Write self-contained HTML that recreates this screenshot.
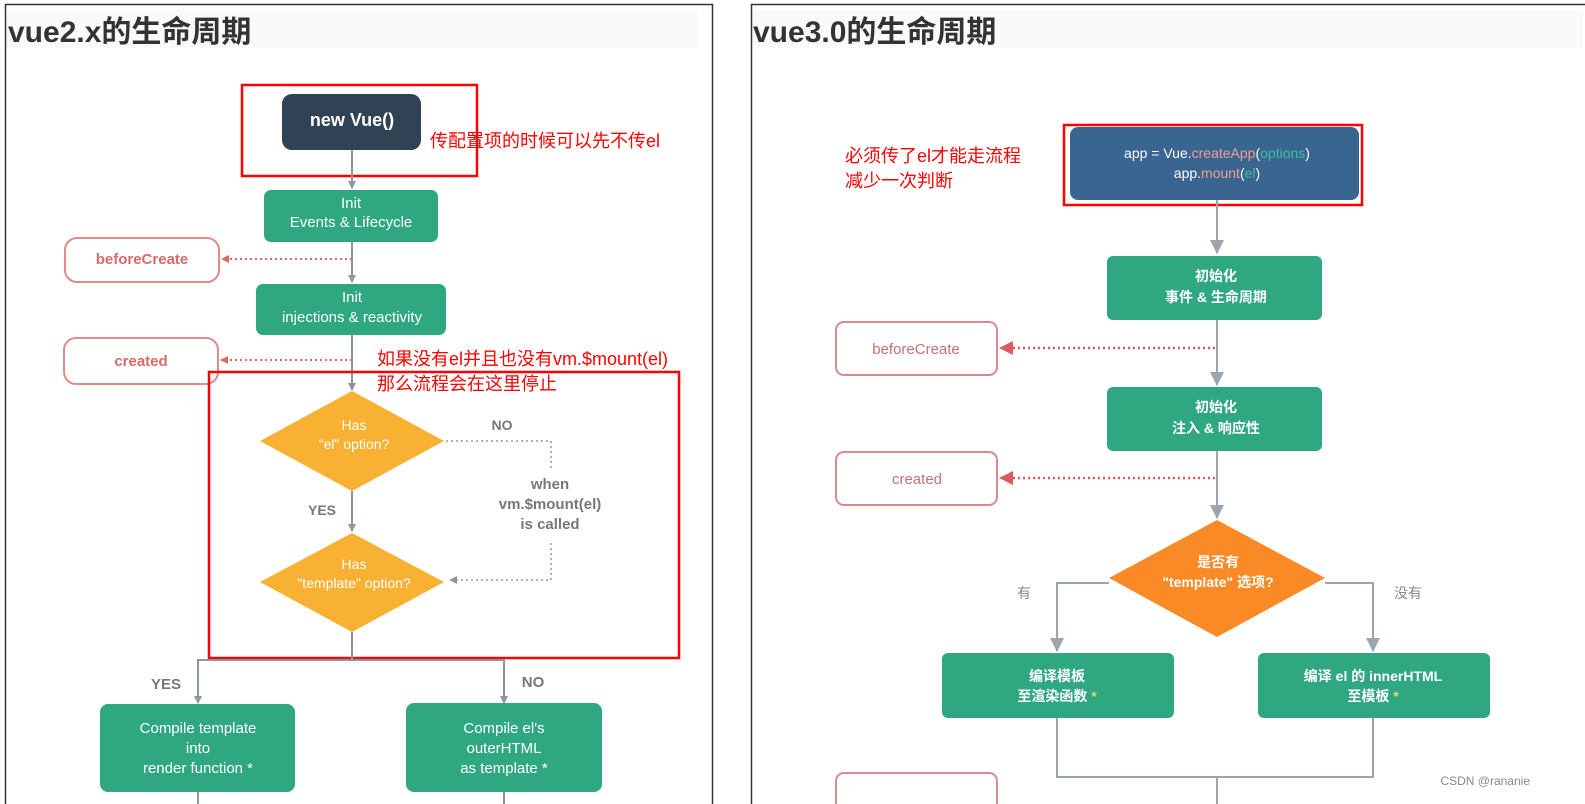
<!DOCTYPE html>
<html><head><meta charset="utf-8"><style>
html,body{margin:0;padding:0;background:#fff;width:1585px;height:804px;overflow:hidden}
svg{display:block}
text{font-family:"Liberation Sans","Noto Sans CJK SC",sans-serif}
</style></head><body>
<svg width="1585" height="804" viewBox="0 0 1585 804" xmlns="http://www.w3.org/2000/svg">
<defs>
<marker id="ag" markerWidth="8" markerHeight="8" refX="7" refY="4" orient="auto" markerUnits="userSpaceOnUse"><path d="M0,0 L8,4 L0,8z" fill="#8a96a3"/></marker>
<marker id="ar" markerWidth="8" markerHeight="8" refX="7" refY="4" orient="auto" markerUnits="userSpaceOnUse"><path d="M0,0 L8,4 L0,8z" fill="#d96a6a"/></marker>
<marker id="ag2" markerWidth="14" markerHeight="14" refX="13" refY="7" orient="auto" markerUnits="userSpaceOnUse"><path d="M0,0 L14,7 L0,14z" fill="#9ca5ad"/></marker>
<marker id="ar2" markerWidth="14" markerHeight="14" refX="13" refY="7" orient="auto" markerUnits="userSpaceOnUse"><path d="M0,0 L14,7 L0,14z" fill="#dd5a5f"/></marker>
</defs>
<rect x="5.5" y="4.5" width="707" height="810" fill="#fff" stroke="#333" stroke-width="1.5"/>
<rect x="7" y="10" width="690" height="38" fill="#f9f9f9"/>
<text x="8" y="42" font-size="30" font-weight="bold" fill="#333">vue2.x的生命周期</text>
<rect x="751.5" y="4.5" width="840" height="810" fill="#fff" stroke="#333" stroke-width="1.5"/>
<rect x="753" y="10" width="830" height="38" fill="#fafafa"/>
<text x="753" y="42" font-size="30" font-weight="bold" fill="#333">vue3.0的生命周期</text>

<rect x="282" y="94" width="139" height="56" rx="10" fill="#2f4354"/>
<text x="352" y="126" font-size="18" font-weight="bold" fill="#fff" text-anchor="middle">new Vue()</text>
<rect x="242" y="85" width="235" height="91" fill="none" stroke="#f00" stroke-width="2.5"/>
<text x="430" y="147" font-size="18" fill="#f00">传配置项的时候可以先不传el</text>
<line x1="352" y1="150" x2="352" y2="188" stroke="#8a96a3" stroke-width="2" marker-end="url(#ag)"/>
<rect x="264" y="190" width="174" height="52" rx="7" fill="#2fa882"/>
<text x="351" y="208" font-size="15" fill="#fff" text-anchor="middle">Init</text>
<text x="351" y="227" font-size="15" fill="#fff" text-anchor="middle">Events &amp; Lifecycle</text>
<rect x="65" y="238" width="154" height="44" rx="12" fill="#fff" stroke="#e08a8c" stroke-width="2"/>
<text x="142" y="264" font-size="15" font-weight="bold" fill="#d96a6a" text-anchor="middle">beforeCreate</text>
<line x1="352" y1="259" x2="222" y2="259" stroke="#d96a6a" stroke-width="2" stroke-dasharray="2,3" marker-end="url(#ar)"/>
<line x1="352" y1="242" x2="352" y2="282" stroke="#8a96a3" stroke-width="2" marker-end="url(#ag)"/>
<rect x="256" y="284" width="190" height="51" rx="7" fill="#2fa882"/>
<text x="352" y="302" font-size="15" fill="#fff" text-anchor="middle">Init</text>
<text x="352" y="322" font-size="15" fill="#fff" text-anchor="middle">injections &amp; reactivity</text>
<rect x="64" y="338" width="154" height="46" rx="12" fill="#fff" stroke="#e08a8c" stroke-width="2"/>
<text x="141" y="366" font-size="15" font-weight="bold" fill="#d96a6a" text-anchor="middle">created</text>
<line x1="352" y1="360" x2="221" y2="360" stroke="#d96a6a" stroke-width="2" stroke-dasharray="2,3" marker-end="url(#ar)"/>
<line x1="352" y1="335" x2="352" y2="390" stroke="#8a96a3" stroke-width="2" marker-end="url(#ag)"/>
<text x="377" y="365" font-size="18" fill="#f00">如果没有el并且也没有vm.$mount(el)</text>
<text x="377" y="390" font-size="18" fill="#f00">那么流程会在这里停止</text>
<rect x="209" y="372" width="470" height="286" fill="none" stroke="#f00" stroke-width="2.5"/>
<polygon points="352,391 444,441 352,491 260,441" fill="#f8b133"/>
<text x="354" y="430" font-size="14" fill="#fff" text-anchor="middle">Has</text>
<text x="354" y="449" font-size="14" fill="#fff" text-anchor="middle">"el" option?</text>
<text x="502" y="430" font-size="14" font-weight="bold" fill="#777" text-anchor="middle">NO</text>
<polyline points="446,441 551,441 551,470" fill="none" stroke="#999" stroke-width="1.5" stroke-dasharray="2,3"/>
<text x="550" y="489" font-size="15" font-weight="bold" fill="#777" text-anchor="middle">when</text>
<text x="550" y="509" font-size="15" font-weight="bold" fill="#777" text-anchor="middle">vm.$mount(el)</text>
<text x="550" y="529" font-size="15" font-weight="bold" fill="#777" text-anchor="middle">is called</text>
<polyline points="551,543 551,580 450,580" fill="none" stroke="#999" stroke-width="1.5" stroke-dasharray="2,3" marker-end="url(#ag)"/>
<text x="322" y="515" font-size="14" font-weight="bold" fill="#777" text-anchor="middle">YES</text>
<line x1="352" y1="491" x2="352" y2="531" stroke="#8a96a3" stroke-width="2" marker-end="url(#ag)"/>
<polygon points="352,533 444,582 352,632 260,582" fill="#f8b133"/>
<text x="354" y="569" font-size="14" fill="#fff" text-anchor="middle">Has</text>
<text x="354" y="588" font-size="14" fill="#fff" text-anchor="middle">"template" option?</text>
<line x1="352" y1="632" x2="352" y2="660" stroke="#8a96a3" stroke-width="2"/>
<polyline points="198,703 198,660 504,660 504,703" fill="none" stroke="#8a96a3" stroke-width="2"/>
<path d="M194,696 L198,704 L202,696z M500,696 L504,704 L508,696z" fill="#8a96a3"/>
<text x="166" y="689" font-size="15" font-weight="bold" fill="#777" text-anchor="middle">YES</text>
<text x="533" y="687" font-size="15" font-weight="bold" fill="#777" text-anchor="middle">NO</text>
<rect x="100" y="704" width="195" height="88" rx="8" fill="#2fa882"/>
<text x="198" y="733" font-size="15" fill="#fff" text-anchor="middle">Compile template</text>
<text x="198" y="753" font-size="15" fill="#fff" text-anchor="middle">into</text>
<text x="198" y="773" font-size="15" fill="#fff" text-anchor="middle">render function *</text>
<rect x="406" y="703" width="196" height="89" rx="8" fill="#2fa882"/>
<text x="504" y="733" font-size="15" fill="#fff" text-anchor="middle">Compile el's</text>
<text x="504" y="753" font-size="15" fill="#fff" text-anchor="middle">outerHTML</text>
<text x="504" y="773" font-size="15" fill="#fff" text-anchor="middle">as template *</text>
<line x1="198" y1="792" x2="198" y2="804" stroke="#8a96a3" stroke-width="2"/>
<line x1="504" y1="792" x2="504" y2="804" stroke="#8a96a3" stroke-width="2"/>

<text x="845" y="162" font-size="18" fill="#f00">必须传了el才能走流程</text>
<text x="845" y="187" font-size="18" fill="#f00">减少一次判断</text>
<rect x="1070" y="127" width="289" height="73" rx="8" fill="#3a6591"/>
<rect x="1064" y="125" width="298" height="80" fill="none" stroke="#f00" stroke-width="2.5"/>
<text x="1217" y="158" font-size="14" fill="#fff" text-anchor="middle">app = Vue.<tspan fill="#f1a08d">createApp</tspan>(<tspan fill="#3cbf95">options</tspan>)</text>
<text x="1217" y="178" font-size="14" fill="#fff" text-anchor="middle">app.<tspan fill="#f1a08d">mount</tspan>(<tspan fill="#3cbf95">el</tspan>)</text>
<line x1="1217" y1="200" x2="1217" y2="253" stroke="#9ca5ad" stroke-width="2" marker-end="url(#ag2)"/>
<rect x="1107" y="256" width="215" height="64" rx="6" fill="#2fa882"/>
<text x="1216" y="281" font-size="14" font-weight="bold" fill="#fff" text-anchor="middle">初始化</text>
<text x="1216" y="302" font-size="14" font-weight="bold" fill="#fff" text-anchor="middle">事件 &amp; 生命周期</text>
<rect x="836" y="322" width="161" height="53" rx="8" fill="#fff" stroke="#d98a8c" stroke-width="2"/>
<text x="916" y="354" font-size="15" fill="#c57272" text-anchor="middle">beforeCreate</text>
<line x1="1215" y1="348" x2="1000" y2="348" stroke="#dd5a5f" stroke-width="2.5" stroke-dasharray="2,3" marker-end="url(#ar2)"/>
<line x1="1217" y1="320" x2="1217" y2="385" stroke="#9ca5ad" stroke-width="2" marker-end="url(#ag2)"/>
<rect x="1107" y="387" width="215" height="64" rx="6" fill="#2fa882"/>
<text x="1216" y="412" font-size="14" font-weight="bold" fill="#fff" text-anchor="middle">初始化</text>
<text x="1216" y="433" font-size="14" font-weight="bold" fill="#fff" text-anchor="middle">注入 &amp; 响应性</text>
<rect x="836" y="452" width="161" height="53" rx="8" fill="#fff" stroke="#d98a8c" stroke-width="2"/>
<text x="917" y="484" font-size="15" fill="#c57272" text-anchor="middle">created</text>
<line x1="1215" y1="478" x2="1000" y2="478" stroke="#dd5a5f" stroke-width="2.5" stroke-dasharray="2,3" marker-end="url(#ar2)"/>
<line x1="1217" y1="451" x2="1217" y2="518" stroke="#9ca5ad" stroke-width="2" marker-end="url(#ag2)"/>
<polygon points="1217,520 1325,578 1217,637 1109,578" fill="#f98a25"/>
<text x="1218" y="567" font-size="14" font-weight="bold" fill="#fff" text-anchor="middle">是否有</text>
<text x="1218" y="587" font-size="14" font-weight="bold" fill="#fff" text-anchor="middle">"template" 选项?</text>
<polyline points="1109,583 1057,583 1057,651" fill="none" stroke="#9ca5ad" stroke-width="2" marker-end="url(#ag2)"/>
<polyline points="1325,583 1373,583 1373,651" fill="none" stroke="#9ca5ad" stroke-width="2" marker-end="url(#ag2)"/>
<text x="1024" y="598" font-size="14" fill="#888" text-anchor="middle">有</text>
<text x="1408" y="598" font-size="14" fill="#888" text-anchor="middle">没有</text>
<rect x="942" y="653" width="232" height="65" rx="6" fill="#2fa882"/>
<text x="1057" y="681" font-size="14" font-weight="bold" fill="#fff" text-anchor="middle">编译模板</text>
<text x="1057" y="701" font-size="14" font-weight="bold" fill="#fff" text-anchor="middle">至渲染函数 <tspan fill="#e8d36a">*</tspan></text>
<rect x="1258" y="653" width="232" height="65" rx="6" fill="#2fa882"/>
<text x="1373" y="681" font-size="14" font-weight="bold" fill="#fff" text-anchor="middle">编译 el 的 innerHTML</text>
<text x="1373" y="701" font-size="14" font-weight="bold" fill="#fff" text-anchor="middle">至模板 <tspan fill="#e8d36a">*</tspan></text>
<polyline points="1057,718 1057,777 1373,777 1373,718" fill="none" stroke="#9ca5ad" stroke-width="2"/>
<line x1="1217" y1="777" x2="1217" y2="804" stroke="#9ca5ad" stroke-width="2"/>
<rect x="836" y="773" width="161" height="50" rx="8" fill="#fff" stroke="#d98a8c" stroke-width="2"/>
<text x="1530" y="785" font-size="12" fill="#888" text-anchor="end">CSDN @rananie</text>
</svg>
</body></html>
